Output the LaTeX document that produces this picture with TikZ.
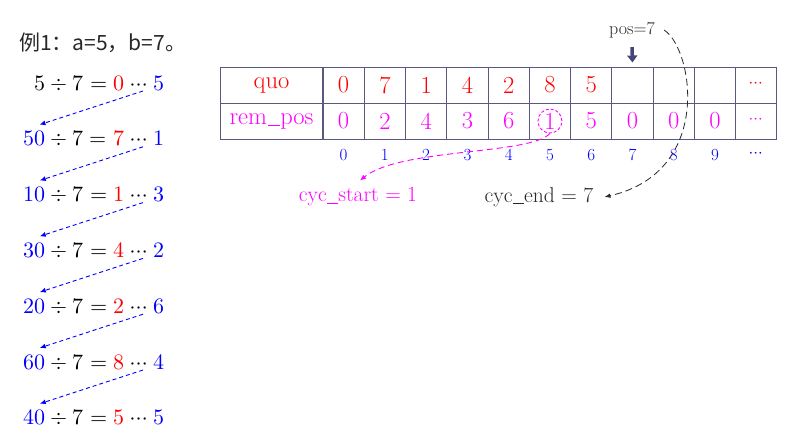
\documentclass[tikz,border=0pt]{standalone}
\usepackage{fontspec}
\usepackage{unicode-math}
\setmathfont{Latin Modern Math}
\newfontfamily\cjk{Noto Sans CJK SC}
\usetikzlibrary{arrows.meta,calc}
\definecolor{gridc}{RGB}{88,88,128}
\definecolor{mag}{RGB}{255,0,255}
\definecolor{bl}{RGB}{0,0,255}
\definecolor{rd}{RGB}{255,0,0}
\definecolor{darkt}{RGB}{40,40,40}
\definecolor{arrc}{RGB}{68,70,120}
\newcommand\myus{\kern0.03em\rule[-0.1em]{0.48em}{0.045em}\kern0.03em}
\newcommand\rdots{\mkern2mu\cdots\mkern2mu}
\begin{document}
\begin{tikzpicture}[x=1pt,y=-1pt,
  cell/.style={draw=gridc,line width=1pt,minimum width=41.27pt,minimum height=36pt,inner sep=0pt,font=\fontsize{24.5}{28}\selectfont},
  hcell/.style={cell,minimum width=103pt},
  idx/.style={text=bl,inner sep=0pt,font=\fontsize{17}{20}\selectfont},
  eqn/.style={anchor=base east,inner sep=0pt,font=\fontsize{22}{26}\selectfont},
  barrow/.style={bl,line width=0.9pt,dash pattern=on 4pt off 3pt,-{Latex[length=6pt,width=5pt]}},
  lbl/.style={inner sep=1pt,font=\fontsize{21.5}{25}\selectfont},
  dotsfont/.style={font=\fontsize{17}{20}\selectfont}]
\fill[white] (0,0) rectangle (800,442);
\useasboundingbox (0,0) rectangle (800,442);

% title
\node[anchor=west,inner sep=0pt,font=\cjk\fontsize{21}{24}\selectfont,text=darkt] (title) at (19,43) {例1：a=5，b=7。};

% equations
\node[eqn] (e0) at (165,90) {$5 \div 7 = {\color{rd}0}\rdots{\color{bl}5}$};
\node[eqn] (e1) at (165,145.8) {${\color{bl}50} \div 7 = {\color{rd}7}\rdots{\color{bl}1}$};
\node[eqn] (e2) at (165,201.6) {${\color{bl}10} \div 7 = {\color{rd}1}\rdots{\color{bl}3}$};
\node[eqn] (e3) at (165,257.4) {${\color{bl}30} \div 7 = {\color{rd}4}\rdots{\color{bl}2}$};
\node[eqn] (e4) at (165,313.2) {${\color{bl}20} \div 7 = {\color{rd}2}\rdots{\color{bl}6}$};
\node[eqn] (e5) at (165,369) {${\color{bl}60} \div 7 = {\color{rd}8}\rdots{\color{bl}4}$};
\node[eqn] (e6) at (165,424.8) {${\color{bl}40} \div 7 = {\color{rd}5}\rdots{\color{bl}5}$};
\foreach \i/\j in {0/1,1/2,2/3,3/4,4/5,5/6}
  \draw[barrow] ($(e\i.base east)+(-22,1)$) -- ($(e\j.north west)+(16,-6)$);

% table
\node[hcell,text=rd] (qh) at (271.5,85) {quo};
\node[hcell,text=mag] (rh) at (271.5,121) {rem\myus pos};
\foreach \v [count=\k from 0] in {0,7,1,4,2,8,5,{},{},{}}
  \node[cell,text=rd] (q\k) at ({343.6+41.27*\k},85) {\v};
\foreach \v [count=\k from 0] in {0,2,4,3,6,1,5,0,0,0}
  \node[cell,text=mag] (r\k) at ({343.6+41.27*\k},121) {\v};
\node[cell,text=rd,dotsfont] (q10) at ({343.6+41.27*10},85) {$\cdots$};
\node[cell,text=mag,dotsfont] (r10) at ({343.6+41.27*10},121) {$\cdots$};
\foreach \k in {0,...,9}
  \node[idx] (n\k) at ({343.6+41.27*\k},155) {\k};
\node[idx,dotsfont] (n10) at ({343.6+41.27*10},155) {$\cdots$};

% circle around 1
\node[draw=mag,line width=0.9pt,dash pattern=on 3pt off 2pt,circle,minimum size=24pt,inner sep=0pt] (cc) at (r5) {};

% labels
\node[lbl,text=mag] (cs) at (358,197) {cyc\myus start = 1};
\node[lbl,text=darkt] (ce) at (539,197) {cyc\myus end = 7};
\node[inner sep=1pt,text=darkt,font=\fontsize{18}{21}\selectfont] (pos) at (632,30) {pos=7};

% arrows
\draw[arrc,line width=3.5pt,-{Triangle[width=10pt,length=7pt]}] ([yshift=-8pt]pos.south) -- ([yshift=4pt]q7.north);
\draw[darkt,line width=0.8pt,dash pattern=on 7pt off 4pt,-{Latex[length=6pt,width=4.5pt]}]
  ([xshift=8pt]pos.east) .. controls (693,48) and (714,172) .. ([xshift=10pt]ce.east);
\draw[mag,line width=0.9pt,dash pattern=on 6pt off 4pt,-{Latex[length=6pt,width=5pt]}]
  (cc.south) .. controls (530,155) and (400,148) .. ([xshift=2pt,yshift=6pt]cs.north);
\end{tikzpicture}
\end{document}
